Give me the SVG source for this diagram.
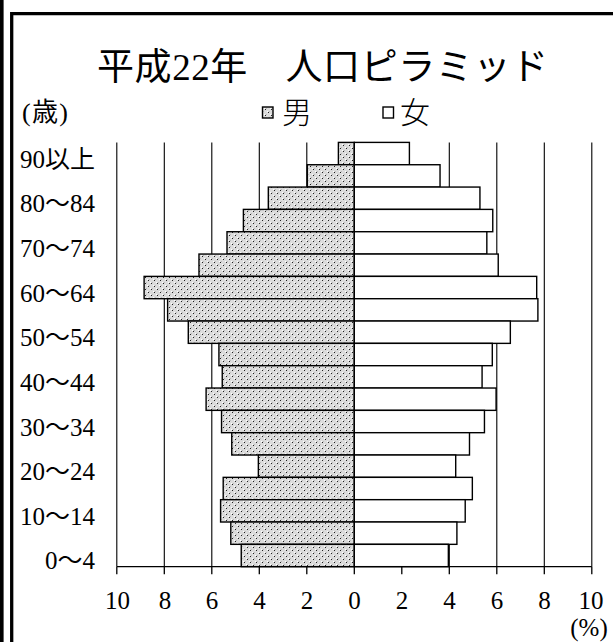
<svg xmlns="http://www.w3.org/2000/svg" width="613" height="642" viewBox="0 0 613 642">
<style>
.t{font-family:"Liberation Serif","Noto Sans CJK JP",serif;fill:#000}
.d{font-family:"Liberation Serif",serif;fill:#000}
.grid{stroke:#000;stroke-width:1.1;fill:none}
.m{fill:url(#dots);stroke:#000;stroke-width:1.4}
.f{fill:#fff;stroke:#000;stroke-width:1.4}
.lbl{font-size:25px;text-anchor:end}
.tick{font-size:25px;text-anchor:middle}
</style>
<defs>
<pattern id="dots" width="6" height="6" patternUnits="userSpaceOnUse">
<rect width="6" height="6" fill="#dcdcdc"/>
<rect x="0" y="0" width="1" height="1" fill="#fff"/>
<rect x="3" y="3" width="1" height="1" fill="#fff"/>
<rect x="2" y="0" width="1" height="1" fill="#bbb"/>
<rect x="5" y="3" width="1" height="1" fill="#bbb"/>
<rect x="1" y="1" width="1" height="1" fill="#222"/>
<rect x="4" y="4" width="1" height="1" fill="#222"/>
</pattern>
</defs>
<rect width="613" height="642" fill="#fff"/>
<g id="frame">
<rect x="0" y="0" width="3.6" height="642" fill="#000"/>
<path d="M11.7 642 V13.6 H613" fill="none" stroke="#000" stroke-width="3.3"/>
</g>
<g id="title"><text class="t" x="322.5" y="80" font-size="37" text-anchor="middle" textLength="451" lengthAdjust="spacing">平成<tspan class="d">22</tspan>年　人口ピラミッド</text></g>
<g id="legend">
<text class="t" x="22" y="121" font-size="26" textLength="46"><tspan class="d">(</tspan>歳<tspan class="d">)</tspan></text>
<rect x="262.5" y="107" width="10.5" height="11" class="m" stroke-width="1"/>
<text class="t" x="282" y="123" font-size="30" font-weight="300">男</text>
<rect x="383" y="107" width="10.5" height="11" class="f" stroke-width="1"/>
<text class="t" x="400" y="123" font-size="30" font-weight="300">女</text>
</g>
<g id="grid" class="grid">
<path d="M116.8 142.4V566.7M164.3 142.4V566.7M211.8 142.4V566.7M259.3 142.4V566.7M306.8 142.4V566.7M354.3 142.4V566.7M401.8 142.4V566.7M449.3 142.4V566.7M496.8 142.4V566.7M544.3 142.4V566.7M591.8 142.4V566.7"/>
</g>
<g id="bars">
<g id="r90"><rect class="m" x="338.39" y="142.4" width="15.91" height="22.33"/><rect class="f" x="354.3" y="142.4" width="55.1" height="22.33"/></g>
<g id="r85"><rect class="m" x="307.27" y="164.73" width="47.03" height="22.33"/><rect class="f" x="354.3" y="164.73" width="85.74" height="22.33"/></g>
<g id="r80"><rect class="m" x="268.32" y="187.06" width="85.98" height="22.33"/><rect class="f" x="354.3" y="187.06" width="125.64" height="22.33"/></g>
<g id="r75"><rect class="m" x="243.39" y="209.39" width="110.91" height="22.33"/><rect class="f" x="354.3" y="209.39" width="138.46" height="22.33"/></g>
<g id="r70"><rect class="m" x="227.0" y="231.72" width="127.3" height="22.33"/><rect class="f" x="354.3" y="231.72" width="132.53" height="22.33"/></g>
<g id="r65"><rect class="m" x="198.97" y="254.05" width="155.33" height="22.33"/><rect class="f" x="354.3" y="254.05" width="143.93" height="22.33"/></g>
<g id="r60"><rect class="m" x="144.11" y="276.38" width="210.19" height="22.33"/><rect class="f" x="354.3" y="276.38" width="182.4" height="22.33"/></g>
<g id="r55"><rect class="m" x="167.62" y="298.71" width="186.68" height="22.33"/><rect class="f" x="354.3" y="298.71" width="183.59" height="22.33"/></g>
<g id="r50"><rect class="m" x="188.29" y="321.04" width="166.01" height="22.33"/><rect class="f" x="354.3" y="321.04" width="156.04" height="22.33"/></g>
<g id="r45"><rect class="m" x="218.92" y="343.37" width="135.38" height="22.33"/><rect class="f" x="354.3" y="343.37" width="137.99" height="22.33"/></g>
<g id="r40"><rect class="m" x="222.25" y="365.7" width="132.05" height="22.33"/><rect class="f" x="354.3" y="365.7" width="127.78" height="22.33"/></g>
<g id="r35"><rect class="m" x="206.1" y="388.03" width="148.2" height="22.33"/><rect class="f" x="354.3" y="388.03" width="141.79" height="22.33"/></g>
<g id="r30"><rect class="m" x="221.54" y="410.36" width="132.76" height="22.33"/><rect class="f" x="354.3" y="410.36" width="130.15" height="22.33"/></g>
<g id="r25"><rect class="m" x="231.75" y="432.69" width="122.55" height="22.33"/><rect class="f" x="354.3" y="432.69" width="115.19" height="22.33"/></g>
<g id="r20"><rect class="m" x="258.35" y="455.02" width="95.95" height="22.33"/><rect class="f" x="354.3" y="455.02" width="101.41" height="22.33"/></g>
<g id="r15"><rect class="m" x="223.2" y="477.35" width="131.1" height="22.33"/><rect class="f" x="354.3" y="477.35" width="118.04" height="22.33"/></g>
<g id="r10"><rect class="m" x="220.59" y="499.68" width="133.71" height="22.33"/><rect class="f" x="354.3" y="499.68" width="110.91" height="22.33"/></g>
<g id="r5"><rect class="m" x="230.8" y="522.01" width="123.5" height="22.33"/><rect class="f" x="354.3" y="522.01" width="102.6" height="22.33"/></g>
<g id="r0"><rect class="m" x="241.25" y="544.34" width="113.05" height="22.33"/><rect class="f" x="354.3" y="544.34" width="94.05" height="22.33"/></g>
</g>
<g id="axis" class="grid">
<path d="M116.8 566.7H591.8M116.8 566.7v7.5M164.3 566.7v7.5M211.8 566.7v7.5M259.3 566.7v7.5M306.8 566.7v7.5M354.3 566.7v7.5M401.8 566.7v7.5M449.3 566.7v7.5M496.8 566.7v7.5M544.3 566.7v7.5M591.8 566.7v7.5" stroke-width="1.3"/>
</g>
<g id="age-labels" class="t lbl">
<text x="95" y="167.5"><tspan class="d">90</tspan>以上</text>
<text x="95" y="212.2"><tspan class="d">80</tspan>〜<tspan class="d">84</tspan></text>
<text x="95" y="256.9"><tspan class="d">70</tspan>〜<tspan class="d">74</tspan></text>
<text x="95" y="301.5"><tspan class="d">60</tspan>〜<tspan class="d">64</tspan></text>
<text x="95" y="346.2"><tspan class="d">50</tspan>〜<tspan class="d">54</tspan></text>
<text x="95" y="390.9"><tspan class="d">40</tspan>〜<tspan class="d">44</tspan></text>
<text x="95" y="435.5"><tspan class="d">30</tspan>〜<tspan class="d">34</tspan></text>
<text x="95" y="480.2"><tspan class="d">20</tspan>〜<tspan class="d">24</tspan></text>
<text x="95" y="524.8"><tspan class="d">10</tspan>〜<tspan class="d">14</tspan></text>
<text x="95" y="568.5"><tspan class="d">0</tspan>〜<tspan class="d">4</tspan></text>
</g>
<g id="tick-labels" class="d tick">
<text x="117.5" y="608.5">10</text>
<text x="165" y="608.5">8</text>
<text x="212" y="608.5">6</text>
<text x="259.5" y="608.5">4</text>
<text x="307" y="608.5">2</text>
<text x="354.5" y="608.5">0</text>
<text x="402" y="608.5">2</text>
<text x="449.5" y="608.5">4</text>
<text x="497" y="608.5">6</text>
<text x="544.5" y="608.5">8</text>
<text x="591" y="608.5">10</text>
<text x="589" y="636">(%)</text>
</g>
</svg>
